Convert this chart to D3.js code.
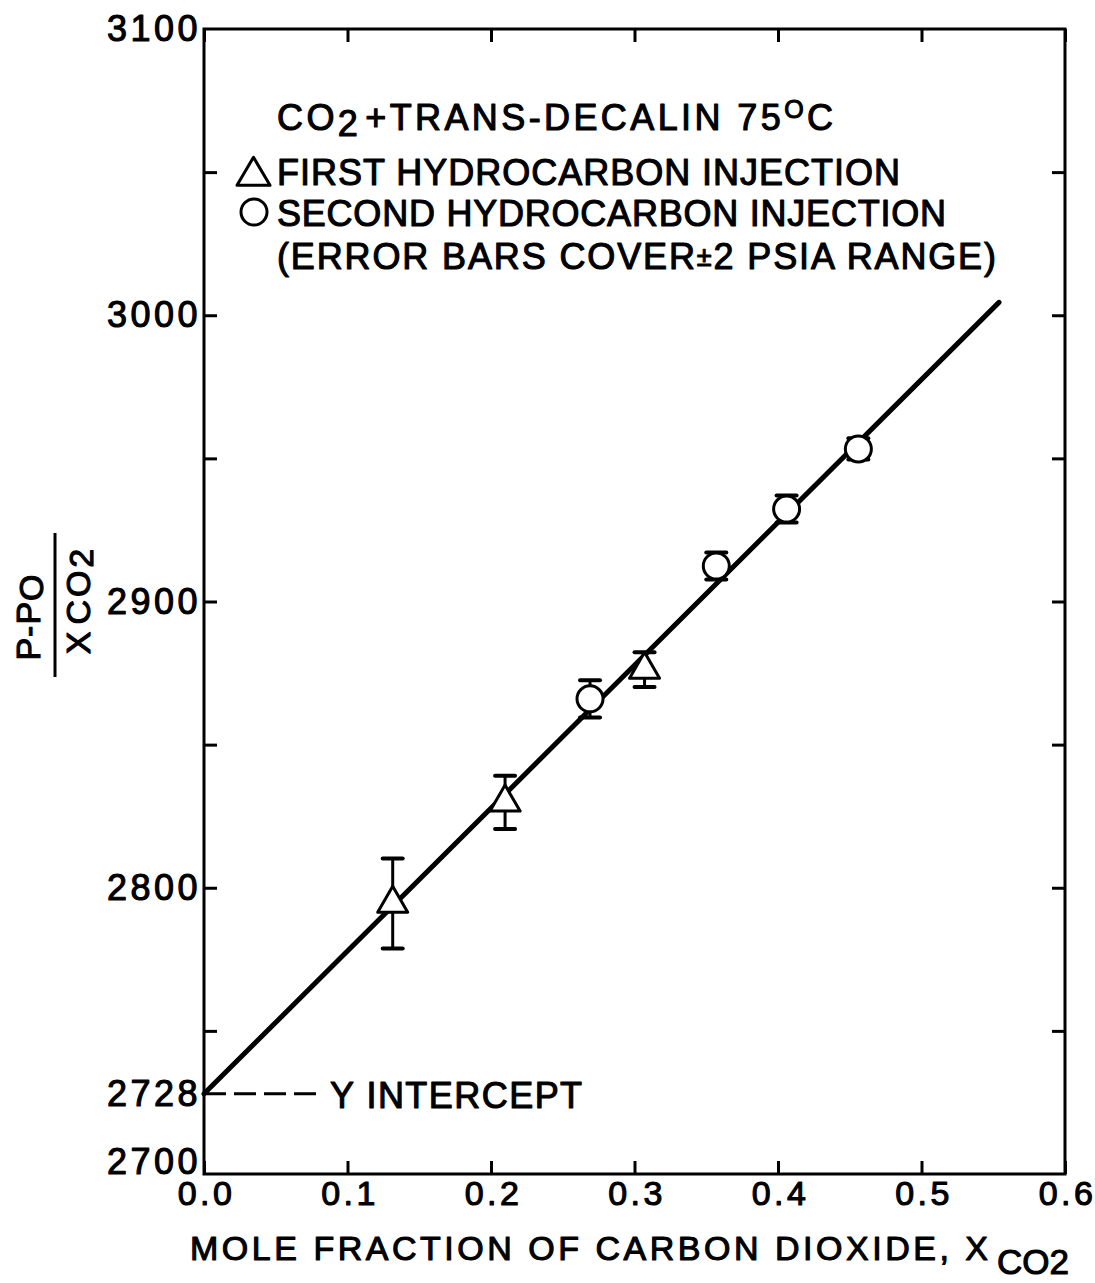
<!DOCTYPE html>
<html>
<head>
<meta charset="utf-8">
<script src="https://cdn.jsdelivr.net/npm/d3@7"></script>
<style>
	body { margin: 0; background: #fff; }
	svg { display: block; font-family: "Liberation Sans", Arial, sans-serif; }
	/* thicken the glyphs a bit, the print is heavier than a plain regular face */
	.lbl { fill: #000; stroke: #000; stroke-width: 1.1px; stroke-linejoin: round; }
</style>
</head>
<body>
<svg id="chart" width="1095" height="1283"></svg>
<script>
// Values
const xTickValues = [0, 0.1, 0.2, 0.3, 0.4, 0.5, 0.6];
const yTickValues = [2750, 2800, 2850, 2900, 2950, 3000, 3050];
const yLabelValues = [2700, 2728, 2800, 2900, 3000, 3100];

// first hydrocarbon injection (triangles)
const firstX = [0.1315, 0.2098, 0.307];
const firstY = [2794.5, 2829.8, 2876.2];
const firstErr = [15.7, 9.3, 6.1];

// second hydrocarbon injection (circles)
const secondX = [0.269, 0.357, 0.406, 0.456];
const secondY = [2866.0, 2912.4, 2932.3, 2953.3];
const secondErr = [6.5, 4.7, 4.7, 3.7];

// fitted line and intercept
const fitX = [0, 0.554];
const fitY = [2728, 3004.5];
const interceptX = [0, 0.083];
const interceptY = 2728;

const svg = d3.select('#chart');

const x = d3.scaleLinear()
	.domain([0, 0.6])
	.range([204, 1065]);

const y = d3.scaleLinear()
	.domain([2700, 3100])
	.range([1174, 29]);

// Frame round the plot
svg.append('rect')
	.attr('x', x(0))
	.attr('y', y(3100))
	.attr('width', x(0.6) - x(0))
	.attr('height', y(2700) - y(3100))
	.attr('fill', 'none')
	.attr('stroke', '#000')
	.attr('stroke-width', 3);

// Ticks on all four sides point inward
function tickGroup(axis, transform) {
	const g = svg.append('g')
		.attr('transform', transform)
		.call(axis);
	g.select('.domain').remove();
	g.selectAll('line').attr('stroke-width', 3);
	return g;
}

const bottomAxis = tickGroup(
	d3.axisBottom(x).tickValues(xTickValues).tickSize(-13).tickPadding(7)
		.tickFormat(d3.format('.1f')),
	`translate(0, ${y(2700)})`);
bottomAxis.selectAll('text')
	.attr('class', 'lbl')
	.attr('font-size', 34)
	.attr('letter-spacing', 3.5)
	.attr('dx', 2);

tickGroup(d3.axisTop(x).tickValues(xTickValues).tickSize(-13).tickFormat(''),
	`translate(0, ${y(3100)})`);
tickGroup(d3.axisLeft(y).tickValues(yTickValues).tickSize(-13).tickFormat(''),
	`translate(${x(0)}, 0)`);
tickGroup(d3.axisRight(y).tickValues(yTickValues).tickSize(-13).tickFormat(''),
	`translate(${x(0.6)}, 0)`);

// Y labels (separate, no tick marks)
const leftLabels = svg.append('g')
	.attr('transform', `translate(${x(0) + 1}, 0)`)
	.call(d3.axisLeft(y).tickValues(yLabelValues).tickSize(0).tickPadding(4)
		.tickFormat(d3.format('d')));
leftLabels.select('.domain').remove();
leftLabels.selectAll('text')
	.attr('class', 'lbl')
	.attr('font-size', 36)
	.attr('letter-spacing', 3.5)
	.attr('y', d => d === 2700 ? -12 : 0);

// Fitted straight line
const fitLine = d3.line()
	.x(d => x(d[0]))
	.y(d => y(d[1]));

svg.append('path')
	.datum(fitX.map((v, i) => [v, fitY[i]]))
	.attr('d', fitLine)
	.attr('fill', 'none')
	.attr('stroke', '#000')
	.attr('stroke-width', 5)
	.attr('stroke-linecap', 'round');

// Y intercept marker
svg.append('line')
	.attr('x1', x(interceptX[0]))
	.attr('x2', x(interceptX[1]))
	.attr('y1', y(interceptY))
	.attr('y2', y(interceptY))
	.attr('stroke', '#000')
	.attr('stroke-width', 3)
	.attr('stroke-dasharray', '22,8');

svg.append('text')
	.attr('class', 'lbl')
	.attr('x', x(interceptX[1]) + 7)
	.attr('y', y(interceptY) + 14)
	.attr('font-size', 36)
	.attr('textLength', 252)
	.attr('lengthAdjust', 'spacing')
	.text('Y INTERCEPT');

// Points
const first = firstX.map((v, i) => ({ x: v, y: firstY[i], e: firstErr[i] }));
const second = secondX.map((v, i) => ({ x: v, y: secondY[i], e: secondErr[i] }));

function errorBars(data) {
	const g = svg.append('g');
	g.selectAll('.bar')
		.data(data)
		.enter()
		.append('line')
			.attr('x1', d => x(d.x))
			.attr('x2', d => x(d.x))
			.attr('y1', d => y(d.y + d.e))
			.attr('y2', d => y(d.y - d.e))
			.attr('stroke', '#000')
			.attr('stroke-width', 3);
	[1, -1].forEach(s => {
		g.selectAll('.cap' + s)
			.data(data)
			.enter()
			.append('line')
				.attr('x1', d => x(d.x) - 10)
				.attr('x2', d => x(d.x) + 10)
				.attr('y1', d => y(d.y + s * d.e))
				.attr('y2', d => y(d.y + s * d.e))
				.attr('stroke', '#000')
				.attr('stroke-width', 4)
				.attr('stroke-linecap', 'round');
	});
}
errorBars(first);
errorBars(second);

// triangle centred on its centroid
function triangle(w, h) {
	return `M0,${-2 * h / 3}L${w / 2},${h / 3}L${-w / 2},${h / 3}Z`;
}

svg.append('g')
	.selectAll('path')
	.data(first)
	.enter()
	.append('path')
		.attr('d', triangle(30, 26))
		.attr('transform', d => `translate(${x(d.x)}, ${y(d.y)})`)
		.attr('fill', '#fff')
		.attr('stroke', '#000')
		.attr('stroke-width', 3)
		.attr('stroke-linejoin', 'round');

svg.append('g')
	.selectAll('circle')
	.data(second)
	.enter()
	.append('circle')
		.attr('cx', d => x(d.x))
		.attr('cy', d => y(d.y))
		.attr('r', 13)
		.attr('fill', '#fff')
		.attr('stroke', '#000')
		.attr('stroke-width', 3);

// Legend
const legend = svg.append('g');

const line1 = legend.append('text')
	.attr('class', 'lbl')
	.attr('x', 277)
	.attr('y', 130)
	.attr('font-size', 36)
	.attr('textLength', 556)
	.attr('lengthAdjust', 'spacing');
line1.append('tspan').text('CO');
line1.append('tspan').attr('dy', 6).text('2');
line1.append('tspan').attr('dy', -6).attr('dx', 4).text('+TRANS-DECALIN 75');
line1.append('tspan').attr('dy', -12).attr('font-size', 25).text('O');
line1.append('tspan').attr('dy', 12).text('C');

legend.append('path')
	.attr('d', triangle(33, 28))
	.attr('transform', 'translate(253.5, 176)')
	.attr('fill', 'none')
	.attr('stroke', '#000')
	.attr('stroke-width', 3)
	.attr('stroke-linejoin', 'round');

legend.append('text')
	.attr('class', 'lbl')
	.attr('x', 277)
	.attr('y', 185)
	.attr('font-size', 36)
	.attr('textLength', 623)
	.attr('lengthAdjust', 'spacing')
	.text('FIRST HYDROCARBON INJECTION');

legend.append('circle')
	.attr('cx', 254)
	.attr('cy', 212)
	.attr('r', 13)
	.attr('fill', 'none')
	.attr('stroke', '#000')
	.attr('stroke-width', 3);

legend.append('text')
	.attr('class', 'lbl')
	.attr('x', 277)
	.attr('y', 226)
	.attr('font-size', 36)
	.attr('textLength', 669)
	.attr('lengthAdjust', 'spacing')
	.text('SECOND HYDROCARBON INJECTION');

const line4 = legend.append('text')
	.attr('class', 'lbl')
	.attr('x', 277)
	.attr('y', 269)
	.attr('font-size', 36)
	.attr('textLength', 719)
	.attr('lengthAdjust', 'spacing');
line4.append('tspan').text('(ERROR BARS COVER');
line4.append('tspan').attr('font-size', 27).attr('dy', -3).text('±');
line4.append('tspan').attr('dy', 3).text('2 PSIA RANGE)');

// X axis title
svg.append('text')
	.attr('class', 'lbl')
	.attr('x', 190)
	.attr('y', 1260)
	.attr('font-size', 34)
	.attr('textLength', 798)
	.attr('lengthAdjust', 'spacing')
	.text('MOLE FRACTION OF CARBON DIOXIDE, X');

svg.append('text')
	.attr('class', 'lbl')
	.attr('x', 997)
	.attr('y', 1274)
	.attr('font-size', 35)
	.attr('textLength', 72)
	.attr('lengthAdjust', 'spacing')
	.text('CO2');

// Y axis title: a fraction
const num = svg.append('text')
	.attr('class', 'lbl')
	.attr('transform', 'translate(40, 617) rotate(-90)')
	.attr('text-anchor', 'middle')
	.attr('font-size', 34)
	.attr('letter-spacing', 1);
num.append('tspan').text('P-P');
num.append('tspan').attr('dy', 3).text('O');

svg.append('line')
	.attr('x1', 55)
	.attr('x2', 55)
	.attr('y1', 533)
	.attr('y2', 677)
	.attr('stroke', '#000')
	.attr('stroke-width', 3);

const den = svg.append('text')
	.attr('class', 'lbl')
	.attr('transform', 'translate(90, 600) rotate(-90)')
	.attr('text-anchor', 'middle')
	.attr('font-size', 34)
	.attr('letter-spacing', 3);
den.append('tspan').text('X');
den.append('tspan').attr('dx', 4).text('CO');
den.append('tspan').attr('dy', 3).text('2');
</script>
</body>
</html>
